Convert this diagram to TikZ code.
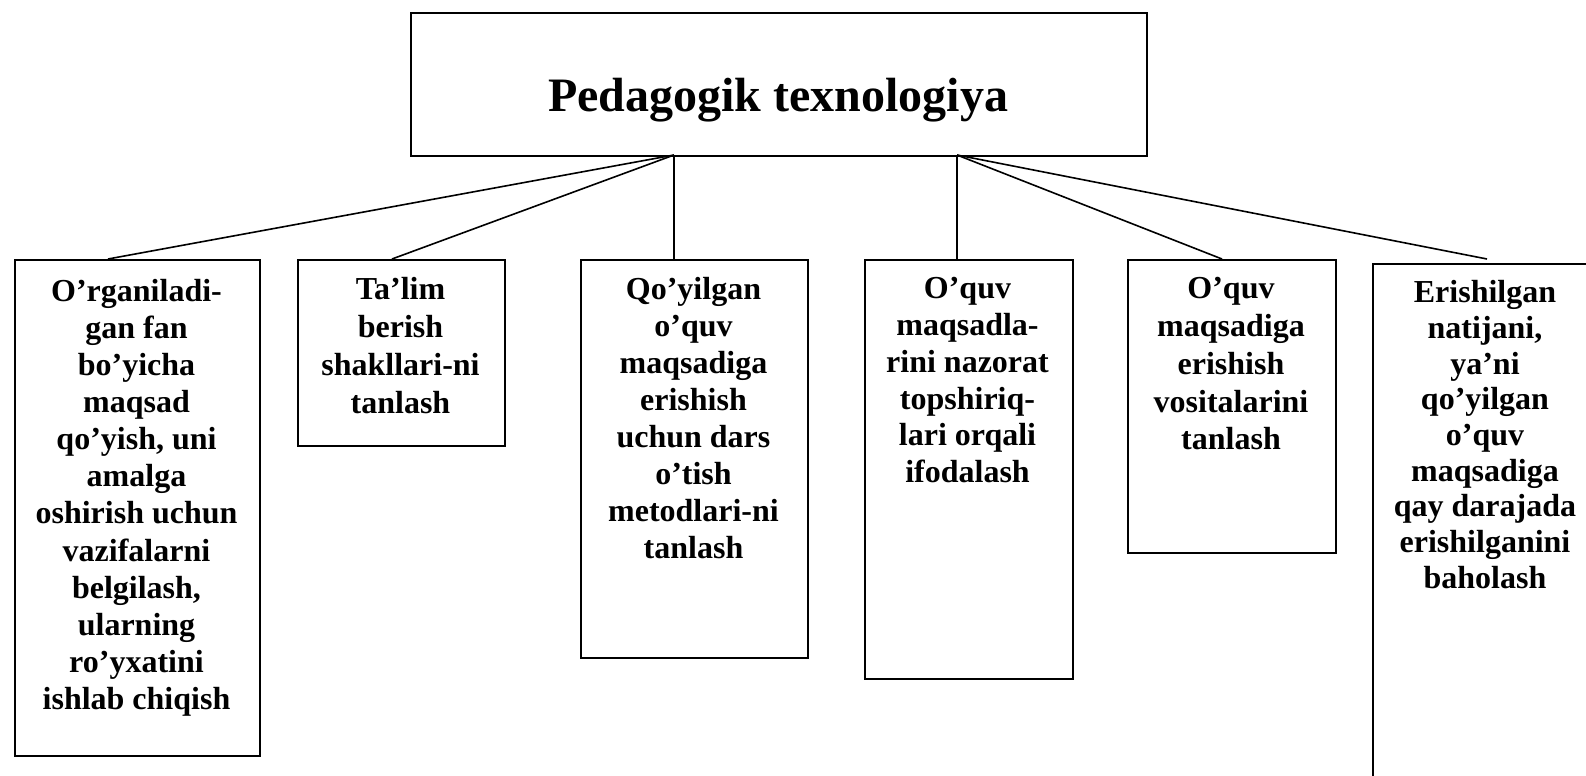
\documentclass[tikz,border=0pt]{standalone}
\usepackage{fontspec}
\setmainfont{Liberation Serif}
\begin{document}
\begin{tikzpicture}[x=0.5pt,y=-0.5pt,
  box/.style={draw,line width=1pt,anchor=north west,inner sep=0pt},
  txt/.style={anchor=north,align=center,inner sep=0pt,font=\fontsize{16}{#1}\selectfont\bfseries},
  txt/.default=18.5,
  conn/.style={line width=0.8pt}]
\useasboundingbox (0,0) rectangle (1586,776);
% title
\node[box,minimum width=368pt,minimum height=71.5pt] (top) at (410,12) {};
\node[anchor=base,inner sep=0pt,font=\fontsize{24}{28}\selectfont\bfseries] (title) at (778,111) {Pedagogik texnologiya};
% boxes (sizes in pt = px/2)
\node[box,minimum width=122.5pt,minimum height=248pt] (b1) at (14,259) {};
\node[box,minimum width=103.5pt,minimum height=93pt] (b2) at (297,259) {};
\node[box,minimum width=113.5pt,minimum height=199pt] (b3) at (580,259) {};
\node[box,minimum width=104pt,minimum height=209.5pt] (b4) at (864,259) {};
\node[box,minimum width=104pt,minimum height=146.5pt] (b5) at (1127,259) {};
\node[box,minimum width=113pt,minimum height=300pt] (b6) at (1372,263) {};
% texts
\node[txt=18.53] (t1) at (136.5,279) {O’rganiladi-\\gan fan\\bo’yicha\\maqsad\\qo’yish, uni\\amalga\\oshirish uchun\\vazifalarni\\belgilash,\\ularning\\ro’yxatini\\ishlab chiqish};
\node[txt=18.95] (t2) at (400.5,277) {Ta’lim\\berish\\shakllari-ni\\tanlash};
\node[txt=18.5] (t3) at (693.5,277) {Qo’yilgan\\o’quv\\maqsadiga\\erishish\\uchun dars\\o’tish\\metodlari-ni\\tanlash};
\node[txt=18.4] (t4) at (967.5,277) {O’quv\\maqsadla-\\rini nazorat\\topshiriq-\\lari orqali\\ifodalash};
\node[txt=18.9] (t5) at (1231,277) {O’quv\\maqsadiga\\erishish\\vositalarini\\tanlash};
\node[txt=17.85] (t6) at (1485,280) {Erishilgan\\natijani,\\ya’ni\\qo’yilgan\\o’quv\\maqsadiga\\qay darajada\\erishilganini\\baholash};
% connector points
\coordinate (hl) at (674,155);
\coordinate (hr) at (957,155);
\coordinate (e1) at (108,259);
\coordinate (e2) at (392,259);
\coordinate (e3) at (674,259);
\coordinate (e4) at (957,259);
\coordinate (e5) at (1222,259);
\coordinate (e6) at (1487,259);
\draw[conn] (hl) -- (e1);
\draw[conn] (hl) -- (e2);
\draw[conn] (hl) -- (e3);
\draw[conn] (hr) -- (e4);
\draw[conn] (hr) -- (e5);
\draw[conn] (hr) -- (e6);
\end{tikzpicture}
\end{document}
